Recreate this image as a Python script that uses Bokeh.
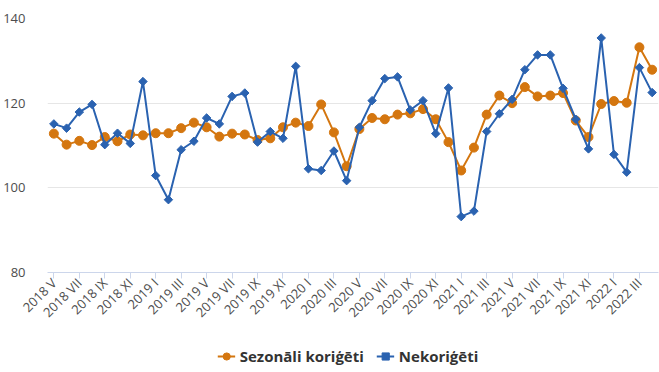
import math
from bokeh.plotting import figure
from bokeh.layouts import column
from bokeh.models import Range1d, FixedTicker, Legend, LegendItem
from bokeh.embed import file_html
from bokeh.resources import INLINE

months = ["2018 V", "2018 VI", "2018 VII", "2018 VIII", "2018 IX", "2018 X", "2018 XI", "2018 XII",
          "2019 I", "2019 II", "2019 III", "2019 IV", "2019 V", "2019 VI", "2019 VII", "2019 VIII",
          "2019 IX", "2019 X", "2019 XI", "2019 XII", "2020 I", "2020 II", "2020 III", "2020 IV",
          "2020 V", "2020 VI", "2020 VII", "2020 VIII", "2020 IX", "2020 X", "2020 XI", "2020 XII",
          "2021 I", "2021 II", "2021 III", "2021 IV", "2021 V", "2021 VI", "2021 VII", "2021 VIII",
          "2021 IX", "2021 X", "2021 XI", "2021 XII", "2022 I", "2022 II", "2022 III", "2022 IV"]

sezonali = [112.8, 110.2, 111.1, 110.1, 112.0, 111.0, 112.6, 112.4,
            112.9, 112.9, 114.1, 115.4, 114.3, 112.1, 112.8, 112.6,
            111.3, 111.7, 114.3, 115.4, 114.6, 119.7, 113.1, 105.1,
            113.9, 116.5, 116.2, 117.3, 117.6, 118.6, 116.2, 110.8,
            104.1, 109.5, 117.3, 121.8, 120.0, 123.8, 121.6, 121.8,
            122.4, 115.9, 112.0, 119.8, 120.5, 120.1, 133.2, 127.9]

nekorigeti = [115.1, 114.1, 117.9, 119.7, 110.2, 112.9, 110.5, 125.1,
              102.9, 97.2, 109.0, 111.0, 116.5, 115.1, 121.6, 122.4,
              110.8, 113.3, 111.7, 128.7, 104.5, 104.1, 108.7, 101.7,
              114.3, 120.6, 125.8, 126.2, 118.4, 120.6, 112.8, 123.6,
              93.2, 94.5, 113.3, 117.5, 120.9, 127.9, 131.4, 131.4,
              123.5, 116.2, 109.2, 135.4, 107.9, 103.7, 128.4, 122.5]

y_ticks = [80, 100, 120, 140]
series_names = ["Sezonāli koriģēti", "Nekoriģēti"]

ORANGE = "#d4760f"
BLUE = "#2a62b0"
BG = "#ffffff"
FONT = "Open Sans"
LABEL_COLOR = "#4d4d4d"

x = list(range(len(months)))

p = figure(frame_width=611, frame_height=254, output_backend="svg", toolbar_location=None,
           x_range=Range1d(-0.5, len(months) - 0.5), y_range=Range1d(80, 140),
           min_border_left=44, min_border_right=4, min_border_top=18, min_border_bottom=74)
p.outline_line_color = None
p.background_fill_color = BG
p.border_fill_color = BG

p.xgrid.visible = False
p.ygrid.grid_line_color = "#e6e6e6"

p.yaxis.ticker = FixedTicker(ticks=y_ticks)
p.yaxis.axis_line_color = None
p.yaxis.major_tick_line_color = None
p.yaxis.minor_tick_line_color = None
p.yaxis.major_label_standoff = 16
p.yaxis.major_label_text_font = FONT
p.yaxis.major_label_text_font_size = "13px"
p.yaxis.major_label_text_color = LABEL_COLOR

p.xaxis.ticker = FixedTicker(ticks=x[::2])
p.xaxis.major_label_overrides = {i: months[i] for i in x[::2]}
p.xaxis.major_label_orientation = math.pi / 4
p.xaxis.axis_line_color = "#ccd6eb"
p.xaxis.major_tick_line_color = "#ccd6eb"
p.xaxis.major_tick_out = 6
p.xaxis.major_tick_in = 0
p.xaxis.minor_tick_line_color = None
p.xaxis.major_label_standoff = 2
p.xaxis.major_label_text_font = FONT
p.xaxis.major_label_text_font_size = "13px"
p.xaxis.major_label_text_color = LABEL_COLOR

p.line(x, sezonali, line_color=ORANGE, line_width=2)
p.scatter(x, sezonali, marker="circle", size=9, fill_color=ORANGE, line_color=ORANGE)
p.line(x, nekorigeti, line_color=BLUE, line_width=2)
p.scatter(x, nekorigeti, marker="square", angle=math.pi / 4, size=6,
          fill_color=BLUE, line_color=BLUE)

# legend strip below the chart (series drawn out of view, only the legend shows)
lg = figure(width=652, height=20, output_backend="svg", toolbar_location=None,
            x_range=Range1d(-200, -199), y_range=Range1d(0, 1),
            min_border_left=0, min_border_right=0, min_border_top=0, min_border_bottom=0)
lg.axis.visible = False
lg.grid.visible = False
lg.outline_line_color = None
lg.background_fill_color = BG
lg.border_fill_color = BG
r1l = lg.line(x, sezonali, line_color=ORANGE, line_width=2)
r1s = lg.scatter(x, sezonali, marker="circle", size=9, fill_color=ORANGE, line_color=ORANGE)
r2l = lg.line(x, nekorigeti, line_color=BLUE, line_width=2)
r2s = lg.scatter(x, nekorigeti, marker="square", angle=math.pi / 4, size=6,
                 fill_color=BLUE, line_color=BLUE)

legend = Legend(items=[LegendItem(label=series_names[0], renderers=[r1l, r1s]),
                       LegendItem(label=series_names[1], renderers=[r2l, r2s])],
                orientation="horizontal", location="center")
legend.label_text_font = FONT
legend.label_text_font_size = "15px"
legend.label_text_font_style = "bold"
legend.label_text_color = "#333333"
legend.border_line_color = None
legend.background_fill_alpha = 0
legend.glyph_width = 18
legend.glyph_height = 18
legend.label_height = 18
legend.spacing = 12
legend.padding = 0
legend.margin = 0
legend.label_standoff = 5
lg.add_layout(legend, "center")

layout = column(p, lg, spacing=0)

open("out.html", "w").write(file_html(layout, INLINE))
